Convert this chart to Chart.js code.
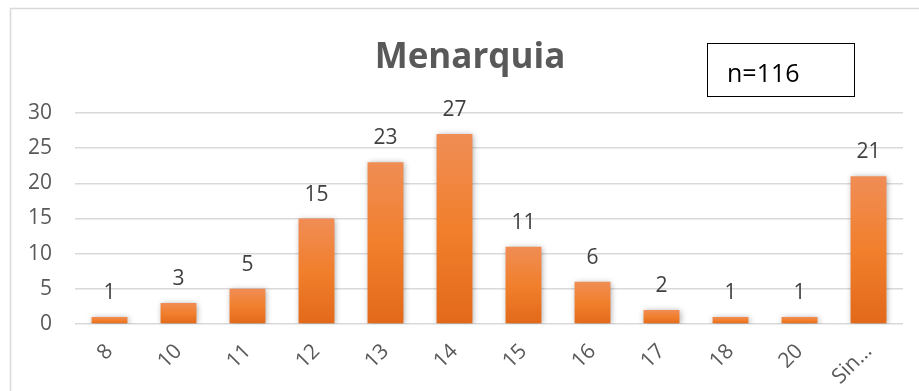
<!DOCTYPE html>
<html>
<head>
<meta charset="utf-8">
<script src="https://cdn.jsdelivr.net/npm/chart.js@4"></script>
<style>
  html, body { margin: 0; padding: 0; background: #ffffff; }
  #wrap { width: 919px; height: 391px; position: relative; }
</style>
</head>
<body>
<div id="wrap"><canvas id="c" width="919" height="391"></canvas></div>
<script>
// ---- data ----
const categories = ["8", "10", "11", "12", "13", "14", "15", "16", "17", "18", "20", "Sin…"];
const counts = [1, 3, 5, 15, 23, 27, 11, 6, 2, 1, 1, 21];
const yTicks = [0, 5, 10, 15, 20, 25, 30];
const titleText = "Menarquia";
const noteText = "n=116";

const FONT = "'Open Sans', 'Liberation Sans', sans-serif";

function barGradient(ctx) {
  const chart = ctx.chart;
  const ys = chart.scales && chart.scales.y;
  if (!ys || ctx.dataIndex === undefined) return '#F07F2A';
  const v = counts[ctx.dataIndex];
  const top = ys.getPixelForValue(v);
  const bot = ys.getPixelForValue(0);
  if (!isFinite(top) || !isFinite(bot) || top === bot) return '#F07F2A';
  const g = chart.ctx.createLinearGradient(0, top, 0, bot);
  g.addColorStop(0, '#F08D55');
  g.addColorStop(0.5, '#F17F2C');
  g.addColorStop(1, '#E2691A');
  return g;
}

const decor = {
  id: 'decor',
  beforeDraw(chart) {
    const c = chart.ctx;
    c.save();
    c.fillStyle = '#ffffff';
    c.fillRect(0, 0, chart.width, chart.height);
    c.strokeStyle = '#d9d9d9';
    c.lineWidth = 1.5;
    c.beginPath();
    c.moveTo(10.5, chart.height + 2);
    c.lineTo(10.5, 8.5);
    c.lineTo(chart.width + 2, 8.5);
    c.stroke();
    c.restore();
  },
  beforeDatasetsDraw(chart) {
    const c = chart.ctx;
    c.save();
    c.shadowColor = 'rgba(0,0,0,0.35)';
    c.shadowBlur = 6;
    c.shadowOffsetX = 1;
    c.shadowOffsetY = 1;
  },
  afterDatasetsDraw(chart) {
    chart.ctx.restore();
    const c = chart.ctx;
    const meta = chart.getDatasetMeta(0);
    c.save();
    c.fillStyle = '#404040';
    c.font = "21px " + FONT;
    c.textAlign = 'center';
    c.textBaseline = 'alphabetic';
    meta.data.forEach((el, i) => {
      c.fillText(String(counts[i]), el.x, el.y - 18);
    });
    c.restore();
  },
  afterDraw(chart) {
    const c = chart.ctx;
    c.save();
    // title
    c.fillStyle = '#595959';
    c.font = "bold 35px " + FONT;
    c.textAlign = 'center';
    c.textBaseline = 'alphabetic';
    c.fillText(titleText, 470, 68);
    // n box
    c.strokeStyle = '#000000';
    c.lineWidth = 1;
    c.strokeRect(707.5, 43.5, 147, 53);
    c.fillStyle = '#000000';
    c.font = "25px " + FONT;
    c.textAlign = 'left';
    c.fillText(noteText, 727, 82);
    c.restore();
  }
};

new Chart(document.getElementById('c'), {
  type: 'bar',
  data: {
    labels: categories,
    datasets: [{
      data: counts,
      backgroundColor: barGradient,
      borderWidth: 0,
      barPercentage: 0.52,
      categoryPercentage: 1.0
    }]
  },
  options: {
    responsive: false,
    animation: false,
    devicePixelRatio: 1,
    layout: { padding: { top: 113, left: 10, right: 16, bottom: 0 } },
    plugins: { legend: { display: false }, tooltip: { enabled: false }, title: { display: false } },
    scales: {
      x: {
        grid: { display: false, drawTicks: false },
        border: { display: false },
        ticks: {
          color: '#595959',
          font: { family: FONT, size: 21 },
          minRotation: 45,
          maxRotation: 45,
          padding: 15,
          autoSkip: false
        },
        afterFit(scale) { scale.height = 67; }
      },
      y: {
        min: 0,
        max: 30,
        afterBuildTicks(scale) { scale.ticks = yTicks.map(v => ({ value: v })); },
        grid: { color: '#d9d9d9', lineWidth: 1.5, drawTicks: false },
        border: { display: false },
        ticks: {
          color: '#595959',
          font: { family: FONT, size: 21 },
          padding: 23
        },
        afterFit(scale) { scale.width = 65; }
      }
    }
  },
  plugins: [decor]
});
</script>
</body>
</html>
